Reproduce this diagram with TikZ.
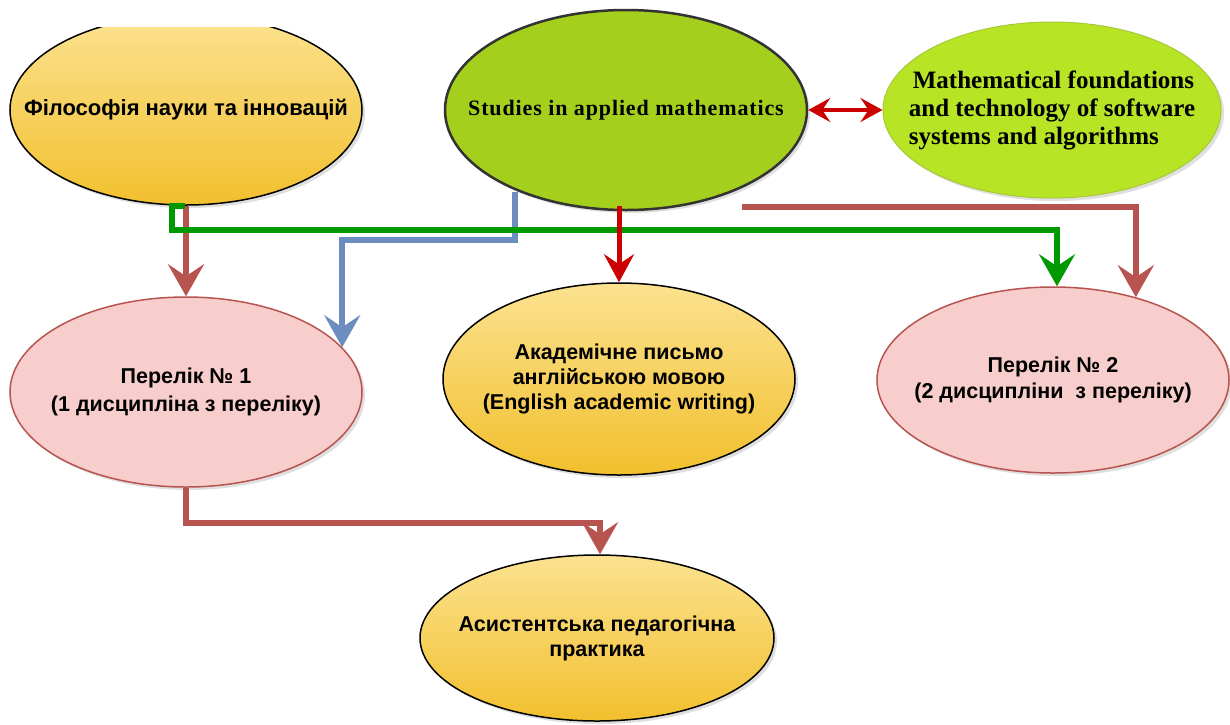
\documentclass[tikz,border=0pt]{standalone}
\usepackage{fontspec}
\setmainfont{Liberation Sans}
\newfontfamily\tnr{Liberation Serif}
\newfontfamily\tnrwide{Liberation Serif}[LetterSpace=4]
\usetikzlibrary{arrows.meta,shapes.geometric,shadows,calc}
\definecolor{brownred}{HTML}{B85450}
\definecolor{grn}{HTML}{009A00}
\definecolor{blu}{HTML}{6C8EBF}
\definecolor{rd}{HTML}{CC0000}
\definecolor{pinkfill}{HTML}{F8CECC}
\definecolor{yeltop}{RGB}{252,226,144}
\definecolor{yelbot}{RGB}{242,192,46}
\definecolor{lime}{RGB}{164,207,28}
\definecolor{limelight}{RGB}{184,228,38}
\tikzset{
  ell/.style={ellipse, inner sep=-120pt, align=center, font=\bfseries\fontsize{21.5}{26}\selectfont,
    drop shadow={shadow xshift=3pt, shadow yshift=-3pt, opacity=0.25, fill=gray}},
  yel/.style={ell, draw=black, line width=1.5pt, top color=yeltop, bottom color=yelbot},
  pnk/.style={ell, draw=brownred, line width=1.5pt, fill=pinkfill},
  conn/.style={line width=6.5pt, -{Stealth[length=32pt,width=36pt,inset=12pt]}},
}
\begin{document}
\begin{tikzpicture}[x=1pt,y=-1pt]
\useasboundingbox (0,0) rectangle (1230,724);
\fill[white] (0,0) rectangle (1230,724);
% nodes
\begin{scope}
\clip (0,27) rectangle (420,724);
\node[yel, minimum width=352pt, minimum height=190pt, font=\bfseries\fontsize{22}{26}\selectfont] (fil) at (186,110) {Філософія науки та інновацій};
\end{scope}
\node[ell, draw=black!80, line width=2.5pt, fill=lime, minimum width=362pt, minimum height=200pt, font=\bfseries\fontsize{22}{24}\tnrwide] (stud) at (626,110) {Studies in applied mathematics};
\node[ell, draw=limelight!85!black!90, line width=1pt, fill=limelight, minimum width=338pt, minimum height=176pt, align=left, font=\bfseries\fontsize{25}{28}\tnr, drop shadow={opacity=0}] (math) at (1052,110) {\raisebox{4pt}{\hspace*{4pt}Mathematical foundations}\\\raisebox{4pt}{and technology of software}\\\raisebox{4pt}{systems and algorithms}};
\node[pnk, minimum width=352pt, minimum height=190pt, font=\bfseries\fontsize{21.5}{28}\selectfont] (per1) at (186,392) {Перелік № 1\\(1 дисципліна з переліку)};
\node[yel, minimum width=352pt, minimum height=192pt, font=\bfseries\fontsize{21.5}{25}\selectfont] (aka) at (619,379) {Академічне письмо\\англійською мовою\\(English academic writing)};
\node[pnk, minimum width=352pt, minimum height=186pt] (per2) at (1053,380) {Перелік № 2\\(2 дисципліни\ \ з переліку)};
\node[yel, minimum width=354pt, minimum height=166pt, font=\bfseries\fontsize{21.5}{25}\selectfont] (asis) at (597,638) {Асистентська педагогічна\\практика};
% connectors
\coordinate (bstart) at (515,192);
\coordinate (rbstart) at (742,207);
\draw[conn, color=blu] (bstart) |- (per1.16 |- 0,240) -- (per1.16);
\draw[conn, color=brownred] (fil.south) -- (per1.north);
\draw[conn, color=grn] ([xshift=-1pt]fil.south) -| ++(-13,24) -| ([xshift=4pt]per2.north);
\draw[line width=5pt, color=rd, -{Stealth[length=28pt,width=30pt,inset=10pt]}] ([yshift=5pt]aka.north |- stud.south) -- (aka.north);
\draw[conn, color=brownred] (rbstart) -| (per2.45);
\draw[conn, color=brownred] (per1.south) -- ++(0,35) -| ([xshift=3pt]asis.north);
\draw[line width=4pt, color=rd, {Stealth[length=22pt,width=24pt,inset=8pt]}-{Stealth[length=22pt,width=24pt,inset=8pt]}] (stud.east) -- (math.west);
\end{tikzpicture}
\end{document}
